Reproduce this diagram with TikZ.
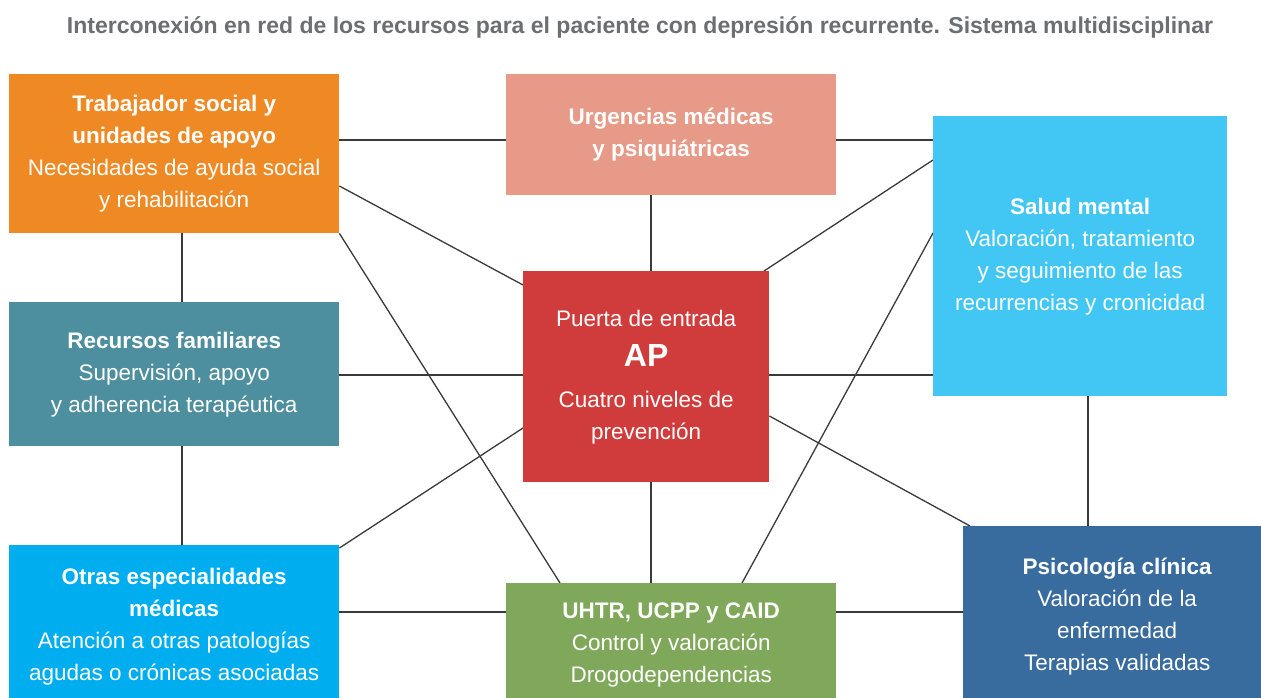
\documentclass[tikz,border=0pt]{standalone}
\usepackage{fontspec}
\setmainfont{Liberation Sans}
\usetikzlibrary{backgrounds}
\definecolor{tsorange}{HTML}{EE8924}
\definecolor{urgsalmon}{HTML}{E69A87}
\definecolor{smblue}{HTML}{42C7F4}
\definecolor{rfteal}{HTML}{4D8F9E}
\definecolor{apred}{HTML}{D03C3B}
\definecolor{osblue}{HTML}{00AEEF}
\definecolor{uhgreen}{HTML}{80A85A}
\definecolor{psblue}{HTML}{386B9E}
\definecolor{titlegray}{HTML}{6D6E71}
\definecolor{linegray}{HTML}{3A3A3A}
\begin{document}
\begin{tikzpicture}[x=1pt,y=-1pt,
  box/.style={rectangle, inner sep=0pt, text=white, align=center, anchor=north west,
    font=\fontsize{22.5}{32}\selectfont},
  conn/.style={draw=linegray, line width=1.3pt},
  ttl/.style={font=\fontsize{23}{26}\selectfont\bfseries, text=titlegray}]
\useasboundingbox (0,0) rectangle (1261,698);
\clip (0,0) rectangle (1261,698);

\node[ttl] (title) at (640,27) {Interconexión en red de los recursos para el paciente con depresión recurrente. Sistema multidisciplinar};

\node[box, fill=tsorange, minimum width=330pt, minimum height=159pt] (ts) at (9,74)
  {\textbf{Trabajador social y}\\\textbf{unidades de apoyo}\\Necesidades de ayuda social\\y rehabilitación};
\node[box, fill=urgsalmon, minimum width=330pt, minimum height=121pt] (urg) at (506,74)
  {\textbf{Urgencias médicas}\\\textbf{y psiquiátricas}};
\node[box, fill=smblue, minimum width=294pt, minimum height=280pt] (sm) at (933,116)
  {\textbf{Salud mental}\\Valoración, tratamiento\\y seguimiento de las\\recurrencias y cronicidad};
\node[box, fill=rfteal, minimum width=330pt, minimum height=144pt] (rf) at (9,302)
  {\textbf{Recursos familiares}\\Supervisión, apoyo\\y adherencia terapéutica};
\node[box, fill=apred, minimum width=246pt, minimum height=211pt] (ap) at (523,271)
  {Puerta de entrada\\[8pt]{\fontsize{32}{32}\selectfont\bfseries AP}\\[9pt]Cuatro niveles de\\prevención};
\node[box, fill=osblue, minimum width=330pt, minimum height=162pt] (os) at (9,545)
  {\textbf{Otras especialidades}\\\textbf{médicas}\\Atención a otras patologías\\agudas o crónicas asociadas};
\node[box, fill=uhgreen, minimum width=330pt, minimum height=124pt] (uhtr) at (506,583)
  {\textbf{UHTR, UCPP y CAID}\\Control y valoración\\Drogodependencias};
\node[box, fill=psblue, minimum width=308pt, minimum height=181pt] (ps) at (963,526)
  {\textbf{Psicología clínica}\\Valoración de la\\enfermedad\\Terapias validadas};

\begin{scope}[on background layer]
\draw[conn] (ts.east |- 0,140) -- (urg.west |- 0,140);
\draw[conn] (urg.east |- 0,140) -- (sm.west |- 0,140);
\draw[conn] (ts.east |- 0,186) -- (ap.west |- 0,285);
\draw[conn] (ts.south east) -- (560,0 |- uhtr.north);
\draw[conn] (182,0 |- ts.south) -- (182,0 |- rf.north);
\draw[conn] (182,0 |- rf.south) -- (182,0 |- os.north);
\draw[conn] (651,0 |- urg.south) -- (651,0 |- ap.north);
\draw[conn] (764,0 |- ap.north) -- (sm.west |- 0,160);
\draw[conn] (sm.west |- 0,233) -- (742,0 |- uhtr.north);
\draw[conn] (rf.east |- 0,375) -- (ap.west |- 0,375);
\draw[conn] (ap.east |- 0,375) -- (sm.west |- 0,375);
\draw[conn] (os.east |- 0,548) -- (ap.west |- 0,428);
\draw[conn] (os.east |- 0,612) -- (uhtr.west |- 0,612);
\draw[conn] (uhtr.east |- 0,612) -- (ps.west |- 0,612);
\draw[conn] (651,0 |- ap.south) -- (651,0 |- uhtr.north);
\draw[conn] (ap.east |- 0,416) -- (970,0 |- ps.north);
\draw[conn] (1088,0 |- sm.south) -- (1088,0 |- ps.north);
\end{scope}
\end{tikzpicture}
\end{document}
